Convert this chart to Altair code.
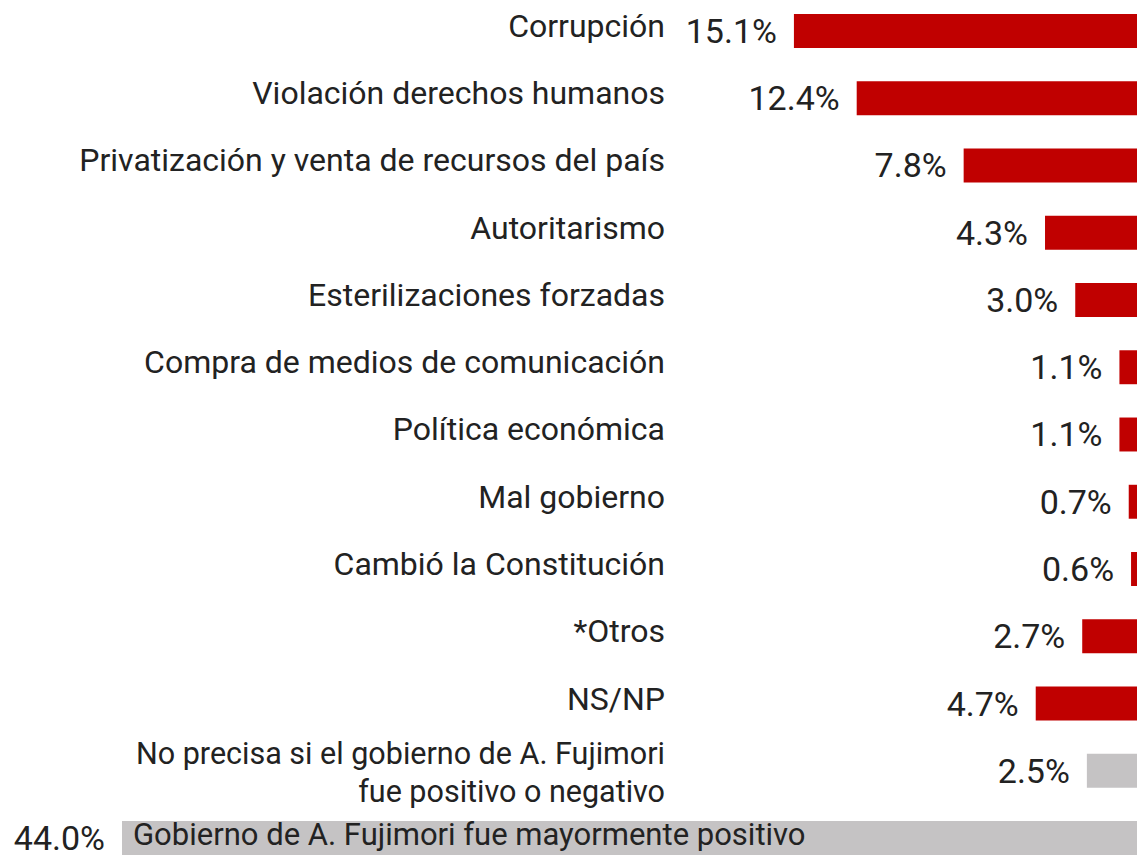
import altair as alt
import pandas as pd

categories = [
    "Corrupción",
    "Violación derechos humanos",
    "Privatización y venta de recursos del país",
    "Autoritarismo",
    "Esterilizaciones forzadas",
    "Compra de medios de comunicación",
    "Política económica",
    "Mal gobierno",
    "Cambió la Constitución",
    "*Otros",
    "NS/NP",
    "No precisa si el gobierno de A. Fujimori\nfue positivo o negativo",
    "Gobierno de A. Fujimori fue mayormente positivo",
]
values = [15.1, 12.4, 7.8, 4.3, 3.0, 1.1, 1.1, 0.7, 0.6, 2.7, 4.7, 2.5, 44.0]
groups = ["negativo"] * 11 + ["no precisa", "positivo"]
value_labels = [f"{v:.1f}%" for v in values]

df = pd.DataFrame({
    "idx": list(range(len(categories))),
    "categoria": categories,
    "valor": values,
    "grupo": groups,
    "etiqueta": value_labels,
})

W, H = 1129, 847

x = alt.X("valor:Q",
          scale=alt.Scale(domain=[0.344, 48.903], reverse=True, nice=False, zero=False),
          axis=None)
y = alt.Y("idx:O",
          scale=alt.Scale(paddingInner=0.495, paddingOuter=0.0446, align=1),
          axis=None)

base = alt.Chart(df)

bars = base.mark_bar(height={"band": 1}).encode(
    x=x,
    x2=alt.datum(0),
    y=y,
    color=alt.Color("grupo:N",
                    scale=alt.Scale(domain=["negativo", "no precisa", "positivo"],
                                    range=["#C00000", "#C5C3C4", "#C5C3C4"]),
                    legend=None),
)

vals = base.mark_text(align="right", baseline="middle", dx=-17, dy=2,
                      font="Roboto", fontSize=34, color="#222222").encode(
    x=x, y=y, text="etiqueta:N")

cat_side = base.transform_filter(alt.datum.grupo == "negativo").mark_text(
    align="right", baseline="middle", dy=-4,
    font="Roboto", fontSize=32, color="#222222").encode(
    x=alt.value(657), y=y, text="categoria:N")

cat_np = base.transform_filter(alt.datum.grupo == "no precisa").mark_text(
    align="right", baseline="middle", dy=-16, lineBreak="\n", lineHeight=38,
    font="Roboto", fontSize=30.5, color="#222222").encode(
    x=alt.value(657), y=y, text="categoria:N")

cat_in = base.transform_filter(alt.datum.grupo == "positivo").mark_text(
    align="left", baseline="middle", dx=11, dy=-2,
    font="Roboto", fontSize=31, color="#222222").encode(
    x=x, y=y, text="categoria:N")

chart = (bars + vals + cat_side + cat_np + cat_in).properties(
    width=W, height=H, padding=0,
    autosize=alt.AutoSizeParams(type="none"),
).configure_view(stroke=None)

chart.save("out.html", embed_options={"renderer": "svg", "actions": False})
